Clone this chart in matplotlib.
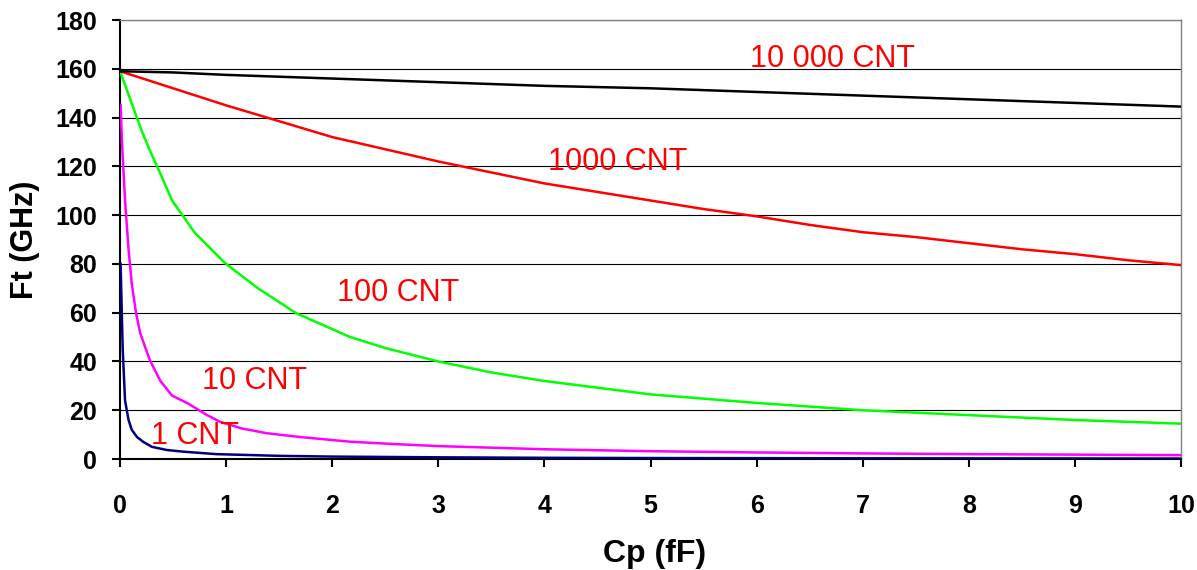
import numpy as np
from matplotlib import pyplot as plt

# Cp (fF) sample points and Ft (GHz)
cp_1 = [0.005, 0.025, 0.047, 0.08, 0.11, 0.16, 0.22, 0.3, 0.44, 0.6, 0.91, 1.5, 2, 3, 4, 5, 7, 10]
ft_1 = [80, 45, 24, 16, 12, 9, 7, 5, 3.7, 3, 2, 1.3, 1, 0.7, 0.5, 0.4, 0.3, 0.2]

cp_10 = [0.005, 0.02, 0.047, 0.08, 0.11, 0.15, 0.19, 0.28, 0.38, 0.49, 0.64, 0.8, 0.94, 1.15, 1.38, 1.7, 2.17, 2.6, 3, 4, 5, 6, 7, 8, 9, 10]
ft_10 = [145, 128, 106, 86, 72, 60, 51.6, 40.6, 32, 26, 22.8, 18.5, 15.3, 12.5, 10.6, 9, 7.1, 6.1, 5.3, 4, 3.2, 2.7, 2.3, 2, 1.8, 1.6]

cp_100 = [0, 0.1, 0.2, 0.28, 0.4, 0.49, 0.7, 0.99, 1.3, 1.66, 2.17, 2.5, 3, 3.5, 4, 5, 6, 7, 8, 9, 10]
ft_100 = [159, 147, 135, 126.6, 115, 106, 93, 80.3, 70, 59.8, 50, 45.5, 40, 35.5, 32, 26.5, 23, 20, 18, 16, 14.5]

cp_1000 = [0, 0.25, 0.5, 0.75, 1, 1.5, 2, 2.5, 3, 3.5, 4, 4.5, 5, 5.5, 6, 6.5, 7, 7.5, 8, 8.5, 9, 9.5, 10]
ft_1000 = [159, 155.5, 152, 148.5, 145, 138.5, 132, 127, 122, 117.5, 113, 109.5, 106, 102.5, 99.5, 96, 93, 91, 88.5, 86, 84, 81.5, 79.5]

cp_10000 = [0, 0.5, 1, 2, 3, 4, 5, 6, 7, 8, 9, 10]
ft_10000 = [159, 158.5, 157.5, 156, 154.5, 153, 152, 150.5, 149, 147.5, 146, 144.5]

series = [
    (cp_1, ft_1, "#000080"),
    (cp_10, ft_10, "#ff00ff"),
    (cp_100, ft_100, "#00ff00"),
    (cp_1000, ft_1000, "#ff0000"),
    (cp_10000, ft_10000, "#000000"),
]

# curve labels: (text, x, y)
labels = [
    ("10 000 CNT", 6.72, 164),
    ("1000 CNT", 4.69, 121.7),
    ("100 CNT", 2.62, 68),
    ("10 CNT", 1.27, 32),
    ("1 CNT", 0.71, 9.4),
]

plt.rcParams['font.family'] = ['Liberation Sans', 'DejaVu Sans']

fig = plt.figure(figsize=(11.97, 5.70), dpi=100)
ax = fig.add_axes([0.1003, 0.1947, 0.8863, 0.7702])

for cp, ft, col in series:
    ax.plot(cp, ft, color=col, linewidth=1.8, zorder=3)

for txt, x, y in labels:
    ax.text(x, y, txt, color="#ff0000", fontsize=22, ha="center", va="center", zorder=4)

ax.set_xlim(0, 10)
ax.set_ylim(0, 180)
ax.set_xticks(np.arange(0, 11, 1))
ax.set_yticks(np.arange(0, 181, 20))
ax.yaxis.grid(True, color="#000000", linewidth=0.8)
ax.set_axisbelow(True)

ax.spines['left'].set_color("black")
ax.spines['left'].set_linewidth(1.5)
ax.spines['bottom'].set_color("black")
ax.spines['bottom'].set_linewidth(1.5)
ax.spines['top'].set_color("#808080")
ax.spines['right'].set_color("#808080")
ax.spines['top'].set_linewidth(1)
ax.spines['right'].set_linewidth(1)

ax.tick_params(axis='both', direction='out', length=6, width=1.5, labelsize=18)
ax.tick_params(axis='x', pad=19)
ax.tick_params(axis='y', pad=10.5)
for lab in ax.get_xticklabels() + ax.get_yticklabels():
    lab.set_fontweight('bold')

ax.set_xlabel("Cp (fF)", fontsize=23, fontweight='bold', va='center')
ax.set_ylabel("Ft (GHz)", fontsize=22, fontweight='bold', va='center')
ax.xaxis.set_label_coords(0.504, -0.2164)
ax.yaxis.set_label_coords(-0.0895, 0.4989)

fig.savefig("out.png", dpi=100)
